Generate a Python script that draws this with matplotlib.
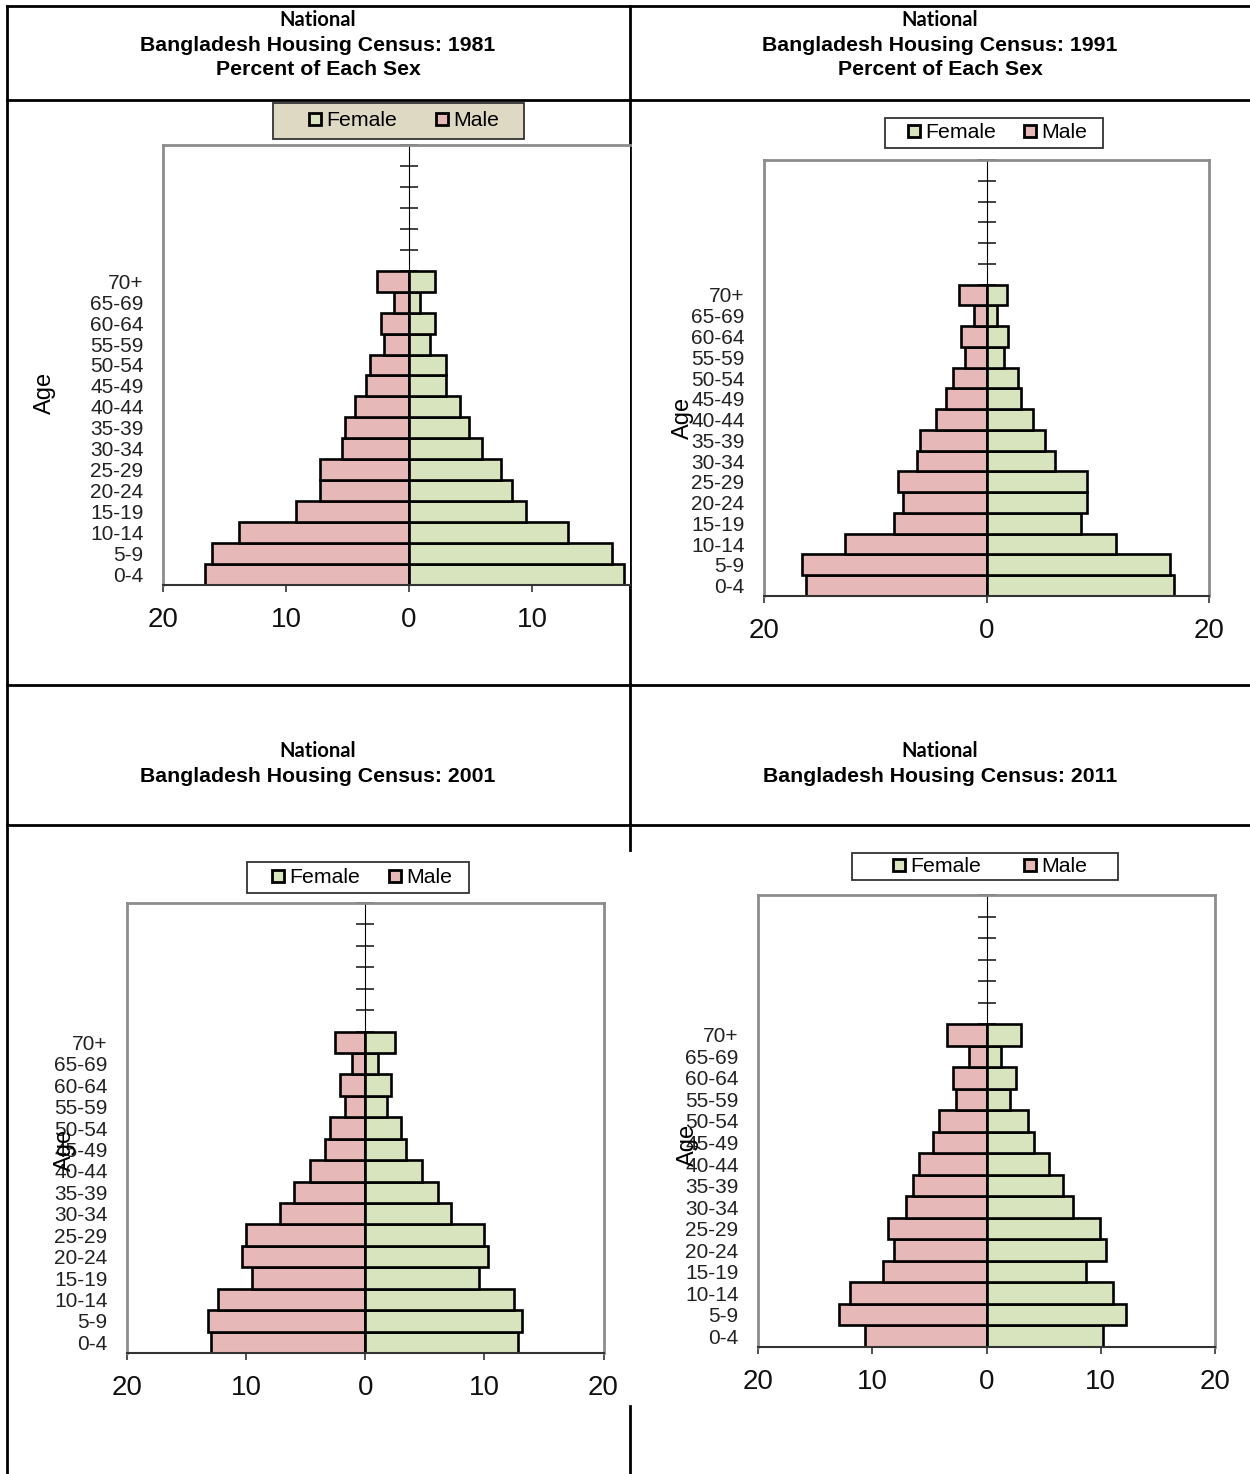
import matplotlib
matplotlib.use("Agg")
import matplotlib.pyplot as plt
from matplotlib.lines import Line2D
from matplotlib.patches import Rectangle

# ---- data (percent of each sex) ----
ages = ["0-4", "5-9", "10-14", "15-19", "20-24", "25-29", "30-34", "35-39",
        "40-44", "45-49", "50-54", "55-59", "60-64", "65-69", "70+"]

male_1981 = [16.55, 16.0, 13.8, 9.15, 7.2, 7.2, 5.45, 5.2, 4.35, 3.5, 3.2, 2.0, 2.3, 1.2, 2.6]
female_1981 = [17.5, 16.5, 12.9, 9.5, 8.4, 7.5, 5.9, 4.9, 4.15, 3.0, 3.0, 1.7, 2.1, 0.9, 2.1]

male_1991 = [16.2, 16.6, 12.7, 8.3, 7.5, 7.95, 6.25, 6.0, 4.5, 3.6, 3.0, 1.95, 2.3, 1.15, 2.45]
female_1991 = [16.85, 16.5, 11.65, 8.5, 9.05, 9.05, 6.2, 5.25, 4.15, 3.1, 2.85, 1.55, 1.95, 0.9, 1.85]

male_2001 = [12.94, 13.2, 12.4, 9.5, 10.37, 10.0, 7.13, 6.0, 4.66, 3.35, 3.0, 1.72, 2.16, 1.08, 2.5]
female_2001 = [12.84, 13.2, 12.5, 9.56, 10.34, 10.0, 7.23, 6.1, 4.73, 3.45, 3.0, 1.82, 2.16, 1.05, 2.5]

male_2011 = [10.62, 12.9, 11.97, 9.07, 8.06, 8.6, 7.06, 6.47, 5.9, 4.67, 4.15, 2.63, 2.9, 1.56, 3.5]
female_2011 = [10.2, 12.25, 11.07, 8.75, 10.45, 9.97, 7.54, 6.7, 5.5, 4.12, 3.6, 2.08, 2.6, 1.31, 3.05]

xticks_full = [-20, -10, 0, 10, 20]
xticks_1981 = [-20, -10, 0, 10]
xticks_1991 = [-20, 0, 20]

MALE = "#e6b9b8"
FEMALE = "#d7e4bd"
FONT = ["Liberation Sans", "DejaVu Sans"]

W, H = 1250, 1474
fig = plt.figure(figsize=(W / 100, H / 100), dpi=100)


def px_rect(l, t, r, b):
    return [l / W, 1 - b / H, (r - l) / W, (b - t) / H]


# table grid + header cells
tab = fig.add_axes([0, 0, 1, 1], zorder=0)
tab.set_xlim(0, W)
tab.set_ylim(H, 0)
tab.axis("off")
for y in [6, 100, 685, 825]:
    tab.plot([7, W], [y, y], color="black", lw=2)
tab.plot([7, 7], [6, H], color="black", lw=2)
tab.plot([630, 630], [6, 850], color="black", lw=2)
tab.plot([630, 630], [1406, H], color="black", lw=2)

headers = [
    (318, 20, ["Bangladesh Housing Census: 1981", "Percent of Each Sex"]),
    (940, 20, ["Bangladesh Housing Census: 1991", "Percent of Each Sex"]),
    (318, 751, ["Bangladesh Housing Census: 2001"]),
    (940, 751, ["Bangladesh Housing Census: 2011"]),
]
for cx, cy, lines in headers:
    tab.text(cx, cy, "National", ha="center", va="center", fontsize=14.5,
             fontweight="bold", family=["Lato", "DejaVu Sans"])
    for k, s in enumerate(lines):
        tab.text(cx, cy + 25 + 24 * k, s, ha="center", va="center", fontsize=15.3,
                 fontweight="bold", family=FONT)

# panel layout: plot area in pixels, xlim, ticks, Age label centre (px),
# legend frame (px) and legend content span (px)
panels = [
    dict(rect=(163, 145, 630, 585), xmax=17.97, ticks=xticks_1981, male=male_1981,
         female=female_1981, age=(45, 393), frame=(273, 103, 524, 139),
         inner=(309, 499), legbg="#ddd9c3", right=False),
    dict(rect=(764, 160, 1209, 596), xmax=20, ticks=xticks_1991, male=male_1991,
         female=female_1991, age=(683, 418), frame=(885, 118, 1103, 148),
         inner=(908, 1087), legbg="white", right=True),
    dict(rect=(127, 903, 603.5, 1353), xmax=20, ticks=xticks_full, male=male_2001,
         female=female_2001, age=(65, 1150), frame=(247, 862, 469, 893),
         inner=(272, 452), legbg="white", right=True),
    dict(rect=(758, 895, 1215, 1347), xmax=20, ticks=xticks_full, male=male_2011,
         female=female_2011, age=(688, 1145), frame=(852, 853, 1118, 880),
         inner=(893, 1087), legbg="white", right=True),
]

n_slots = 21
for p in panels:
    l, t, r, b = p["rect"]
    ax = fig.add_axes(px_rect(l, t, r, b), zorder=2)
    ypos = [i + 0.5 for i in range(len(ages))]
    ax.barh(ypos, [-v for v in p["male"]], height=1.0, color=MALE,
            edgecolor="black", linewidth=1.9, zorder=2)
    ax.barh(ypos, p["female"], height=1.0, color=FEMALE,
            edgecolor="black", linewidth=1.9, zorder=2)
    ax.set_xlim(-20, p["xmax"])
    ax.set_ylim(0, n_slots)

    ax.set_yticks(ypos)
    ax.set_yticklabels(ages, fontsize=15, family=FONT, color="#222222")
    ax.tick_params(axis="y", length=0, pad=14)
    ax.set_xticks(p["ticks"])
    ax.set_xticklabels([str(abs(v)) for v in p["ticks"]], fontsize=20, family=FONT,
                       color="#111111")
    ax.tick_params(axis="x", direction="out", length=5, width=1.2, pad=11,
                   color="#333333")

    for side in ["left", "top", "right"]:
        ax.spines[side].set_color("#8c8c8c")
        ax.spines[side].set_linewidth(2)
    ax.spines["right"].set_visible(p["right"])
    ax.spines["bottom"].set_color("#333333")
    ax.spines["bottom"].set_linewidth(1.5)

    # "Age" axis title, centred where the reference puts it
    ax.set_ylabel("Age", fontsize=17, family=FONT, va="center", ha="center")
    ax_x, ax_y = p["age"]
    ax.yaxis.set_label_coords((ax_x - l) / (r - l), (b - ax_y) / (b - t))

    # vertical category axis crossing at zero
    frac = 20 / (20 + p["xmax"])
    sec = ax.secondary_yaxis(frac)
    sec.set_yticks(range(0, n_slots + 1))
    sec.tick_params(direction="inout", length=13, width=1.2, labelleft=False,
                    labelright=False, color="#222222")
    sec.spines["left"].set_color("#222222")
    sec.spines["left"].set_linewidth(1.5)

    # legend: frame drawn as a box, entries spread over the content span
    fl, ft, fr, fb = p["frame"]
    tab.add_patch(Rectangle((fl, ft), fr - fl, fb - ft, facecolor=p["legbg"],
                            edgecolor="#333333", lw=1.3, zorder=3))
    handles = [
        Line2D([], [], ls="none", marker="s", markersize=9, markerfacecolor=FEMALE,
               markeredgecolor="black", markeredgewidth=2, label="Female"),
        Line2D([], [], ls="none", marker="s", markersize=9, markerfacecolor=MALE,
               markeredgecolor="black", markeredgewidth=2, label="Male"),
    ]
    il, ir = p["inner"]
    cy = (ft + fb) / 2
    fig.legend(handles=handles, loc="center", mode="expand",
               bbox_to_anchor=(il / W, 1 - (cy + 12) / H, (ir - il) / W, 24 / H),
               ncol=2, frameon=False, prop={"family": FONT, "size": 15.3},
               handletextpad=0.2, borderpad=0.0, borderaxespad=0.0,
               handlelength=0.6)

fig.savefig("out.png", dpi=100, facecolor="white")
